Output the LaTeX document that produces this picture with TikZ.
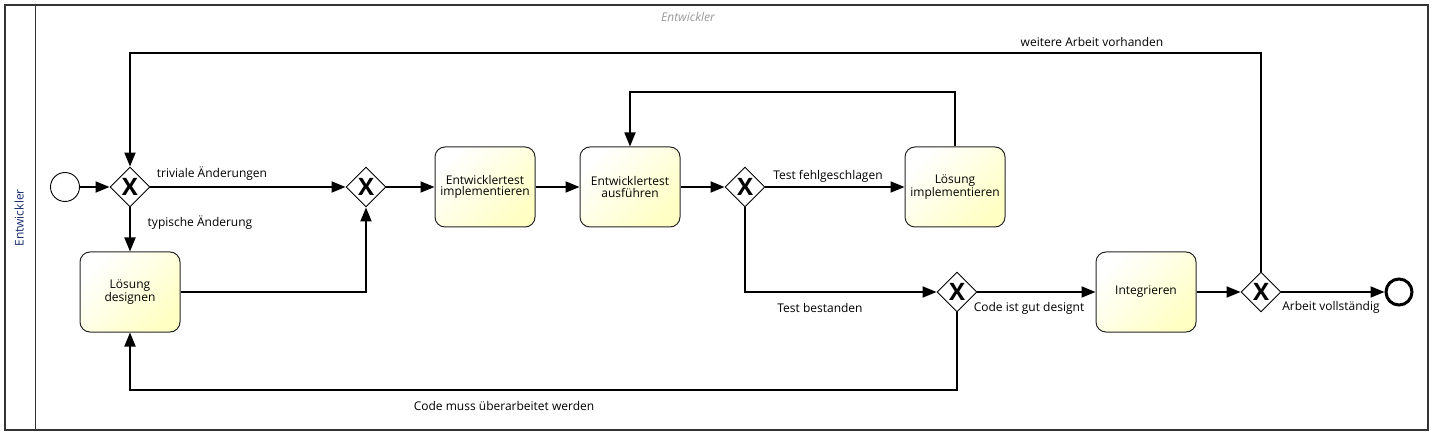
\documentclass[tikz,border=0pt]{standalone}
\usepackage{fontspec}
\setmainfont{Open Sans}
\usetikzlibrary{shapes.geometric,arrows.meta}

\definecolor{taskfill}{RGB}{255,255,196}
\definecolor{lanetext}{RGB}{24,44,112}

\tikzset{
  task/.style={draw=black!85, line width=1pt, rounded corners=10pt,
    minimum width=100pt, minimum height=80pt, inner sep=2pt,
    top color=white, bottom color=taskfill, shading angle=45,
    align=center, font=\fontsize{12}{11.5}\selectfont},
  gate/.style={diamond, draw, line width=0.9pt, fill=white, aspect=1,
    minimum size=40pt, inner sep=0pt, font=\fontsize{24}{24}\selectfont\bfseries},
  flow/.style={line width=1.8pt, -{Triangle[length=14pt,width=11pt]}},
  lbl/.style={font=\fontsize{12}{12}\selectfont, inner sep=1pt},
}

\begin{document}
\begin{tikzpicture}[x=1pt,y=-1pt]
  \useasboundingbox (0,0) rectangle (1431,435);
  % pool and lane
  \draw[line width=1.2pt, black!80] (5,5) rectangle (1428,430);
  \draw[line width=1pt, black!80] (35,5) -- (35,430);
  \node[rotate=90, text=lanetext, font=\fontsize{12}{12}\selectfont] (laneName) at (19,218) {Entwickler};
  \node[text=black!40, font=\fontsize{12}{12}\selectfont\itshape] (poolName) at (688,17) {Entwickler};

  % events, gateways, tasks
  \node[draw, circle, line width=0.9pt, minimum size=29pt, inner sep=0pt] (start) at (65,187) {};
  \node[gate] (g1) at (130,187) {X};
  \node[gate] (g2) at (366,187) {X};
  \node[task] (design) at (130,292) {Lösung\\designen};
  \node[task] (testimpl) at (485,187) {Entwicklertest\\implementieren};
  \node[task] (testrun) at (630,187) {Entwicklertest\\ausführen};
  \node[gate] (g3) at (745,187) {X};
  \node[task] (implement) at (955,187) {Lösung\\implementieren};
  \node[gate] (g4) at (957,292) {X};
  \node[task] (integrate) at (1146,292) {Integrieren};
  \node[gate] (g5) at (1261,292) {X};
  \node[draw, circle, line width=3pt, minimum size=26pt, inner sep=0pt] (end) at (1399,292) {};

  % sequence flows
  \draw[flow] (start) -- (g1);
  \draw[flow] (g1) -- (g2);
  \draw[flow] (g1) -- (design);
  \draw[flow] (design) -| (g2);
  \draw[flow] (g2) -- (testimpl);
  \draw[flow] (testimpl) -- (testrun);
  \draw[flow] (testrun) -- (g3);
  \draw[flow] (g3) -- (implement);
  \draw[flow] (implement.north) -- (implement.north |- 0,92) -| (testrun.north);
  \draw[flow] (g3.south) |- (g4.west);
  \draw[flow] (g4) -- (integrate);
  \draw[flow] (g4.south) -- (g4.south |- 0,390) -| (design.south);
  \draw[flow] (integrate) -- (g5);
  \draw[flow] (g5) -- (end);
  \draw[flow] (g5.north) -- (g5.north |- 0,53) -| (g1.north);

  % flow labels
  \node[lbl] (lTrivial) at (212,174) {triviale Änderungen};
  \node[lbl] (lTypical) at (200,223) {typische Änderung};
  \node[lbl] (lFailed) at (828,176) {Test fehlgeschlagen};
  \node[lbl] (lPassed) at (820,308) {Test bestanden};
  \node[lbl] (lGood) at (1029,308) {Code ist gut designt};
  \node[lbl] (lRework) at (504,406) {Code muss überarbeitet werden};
  \node[lbl] (lDone) at (1331,307) {Arbeit vollständig};
  \node[lbl] (lMore) at (1092,42) {weitere Arbeit vorhanden};
\end{tikzpicture}
\end{document}
